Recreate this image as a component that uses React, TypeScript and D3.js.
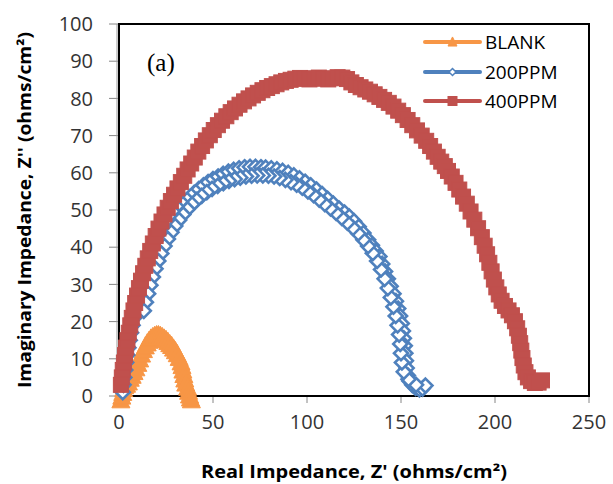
import React from "react";
import * as d3 from "d3";

const seriesNames = ["BLANK", "200PPM", "400PPM"];
const seriesColors = ["#F79646", "#4F81BD", "#C0504D"];

const blankX = [1, 1.5, 2, 2.5, 3, 4, 5, 6, 7, 8, 9, 10, 11, 12, 13, 14, 15, 16, 17, 18, 19, 20, 21, 22, 23, 24, 25, 26, 27, 28, 29, 30, 31, 32, 33, 33.5, 34, 34.5, 35, 35.5, 36.5, 37, 37.5, 38, 38.5];
const blankY = [-1, 0, 1, 2, 2.8, 3.2, 3.8, 4.8, 5.6, 6.6, 7.6, 8.8, 10, 11.3, 12.5, 13.5, 14.3, 15, 15.6, 16, 16.3, 16.5, 16.5, 16.3, 16, 15.6, 15.2, 14.7, 14.1, 13.6, 12.9, 12.2, 11.4, 10.4, 9.2, 8.2, 7, 5.8, 4.6, 3.5, 2.4, 1.3, 0.3, -0.5, -1];

// outer sweep then inner return sweep
const ppm200X = [2, 2.4, 2.8, 3.3, 3.8, 4.4, 5, 5.7, 6.4, 7.2, 8, 8.9, 9.8, 10.8, 11.8, 13, 14.2, 15.5, 16.9, 18.4, 20, 21.7, 23.4, 25.2, 27.1, 29.1, 31.1, 33.2, 35.4, 37.7, 40, 42.4, 44.9, 47.4, 50, 52.7, 55.4, 58.2, 61, 63.9, 66.8, 69.7, 72.6, 75.5, 78, 81, 84, 87, 90, 93, 96, 99, 102, 105, 108, 111, 114, 117, 120, 122.5, 125, 127.5, 130, 132.5, 134.5, 136.5, 138.5, 140, 141.5, 143, 144.5, 146, 147.3, 148.5, 149.5, 150.4, 151, 151.5, 152, 152.3, 152.6, 153, 153.6, 154.5, 156, 157.8, 159.8, 161.5, 163,
  158, 154, 151.5, 150.5, 150, 149.6, 149, 148.2, 147.2, 146, 144.6, 143, 141.3, 139.4, 137.3, 135, 132.5, 130, 127.3, 124.5, 121.5, 118.5, 115.5, 112.5, 109.5, 106.5, 103.5, 100.5, 97.5, 94.5, 91.5, 88.5, 85.5, 82.5, 79.5, 76.5, 73.5, 70.5, 67.5, 64.5, 61.5, 58.5, 55.5, 52.5, 49.5, 46.7, 44, 41.4, 38.9, 36.5, 34.2, 32, 29.9, 27.9, 26, 24.2, 22.5, 20.9, 19.4, 18, 16.7, 15.5, 14.3, 13.2];
const ppm200Y = [1, 3, 5, 7, 9, 11, 13, 15, 17, 19, 21, 23, 25, 27, 29, 31, 33, 35, 36.8, 38.6, 40.3, 42, 43.6, 45.2, 46.7, 48.2, 49.6, 51, 52.3, 53.5, 54.6, 55.6, 56.6, 57.5, 58.3, 59, 59.7, 60.3, 60.8, 61.2, 61.5, 61.6, 61.6, 61.5, 61.4, 61.2, 60.9, 60.5, 60, 59.3, 58.5, 57.6, 56.6, 55.5, 54.3, 53, 51.7, 50.4, 49.3, 48.2, 47, 45.5, 43.8, 42, 40.5, 39, 37.5, 35.5, 33.5, 31.5, 29.5, 27.5, 25.5, 23.5, 21.5, 19.5, 17.5, 15.5, 13.5, 11.5, 9.5, 7.5, 5.5, 4, 3, 2.2, 1.8, 2, 2.8,
  3, 4.5, 6.5, 9, 11.5, 14, 16.5, 19, 21.5, 24, 26.5, 29, 31.5, 34, 36.3, 38.4, 40.3, 42, 43.7, 45.2, 46.6, 47.9, 49.2, 50.4, 51.6, 52.8, 54, 55, 56, 56.8, 57.5, 58.1, 58.6, 59, 59.2, 59.3, 59.3, 59.2, 59, 58.7, 58.3, 57.8, 57.2, 56.5, 55.7, 54.8, 53.8, 52.7, 51.5, 50.2, 48.8, 47.3, 45.7, 44, 42.2, 40.3, 38.3, 36.3, 34.2, 32, 29.8, 27.5, 25.2, 22.9];

const ppm400X = [1, 1.5, 2, 2.6, 3.2, 3.8, 4.5, 5.2, 6, 6.8, 7.7, 8.6, 9.6, 10.6, 11.7, 12.8, 14, 15.3, 16.6, 18, 19.5, 21, 22.6, 24.2, 25.9, 27.6, 29.3, 31.1, 32.9, 34.7, 36.5, 38.4, 40.3, 42.2, 44.2, 46.2, 48.3, 50.4, 52.6, 54.8, 57.1, 59.4, 61.7, 64.1, 66.5, 68.9, 71.3, 73.8, 76.3, 78.8, 81.3, 83.8, 86.3, 88.8, 91.3, 93.8, 96.3, 98.8, 101.3, 103.8, 106.3, 108.8, 111.3, 113.8, 116.3, 118.8, 121.3, 123.6, 126, 128.5, 131, 133.5, 136, 138.5, 141, 143.5, 146, 148.5, 151, 153.5, 156, 158.5, 161, 163.4, 165.5, 167.5, 169.5, 171.4, 173.3, 175, 177, 179, 181, 183, 185, 187, 189, 191, 193, 194.5, 195.8, 197, 198.2, 199.4, 200.7, 202, 203.5, 205.3, 207.2, 209, 210.6, 211.8, 212.7, 213.4, 214, 214.6, 215.3, 216.2, 217.5, 219.2, 221.2, 223.2, 225];
const ppm400Y = [3, 5, 7, 9, 11, 13, 15, 17, 19, 21, 23, 25, 27, 29, 31, 33, 35, 37, 39, 41, 43, 45, 46.9, 48.8, 50.6, 52.4, 54.1, 55.8, 57.5, 59.2, 60.9, 62.5, 64.1, 65.7, 67.2, 68.7, 70.1, 71.5, 72.8, 74, 75.2, 76.3, 77.3, 78.3, 79.2, 80, 80.8, 81.5, 82.2, 82.8, 83.3, 83.8, 84.3, 84.7, 85, 85.3, 85.5, 85.3, 85.1, 85.4, 85.6, 85.3, 85.1, 85.4, 85.7, 85.6, 85.2, 84.3, 83.6, 83, 82.4, 81.8, 81.1, 80.4, 79.6, 78.8, 77.8, 76.7, 75.5, 74.2, 72.8, 71.4, 70, 68.6, 67.2, 65.7, 64.3, 63, 61.8, 60.5, 59, 57.3, 55.5, 53.6, 51.7, 49.6, 47.4, 45.1, 42.7, 40.4, 38.1, 35.8, 33.5, 31.3, 29.2, 27.3, 25.6, 24.2, 23, 21.7, 20.1, 18.2, 16.2, 14.2, 12.2, 10.2, 8.2, 6.4, 5, 4, 3.5, 3.6, 4.2];

const xTicks = [0, 50, 100, 150, 200, 250];
const yTicks = [0, 10, 20, 30, 40, 50, 60, 70, 80, 90, 100];

const W = 613;
const H = 484;
const L = 119, R = 589, T = 24, B = 396;

function marker(kind: number, cx: number, cy: number, s: number, color: string, key: string) {
  if (kind === 0) {
    const h = s * 0.9;
    const pts = `${cx},${cy - h / 2 - 1} ${cx - s / 2},${cy + h / 2} ${cx + s / 2},${cy + h / 2}`;
    return <polygon key={key} points={pts} fill={color} stroke={color} strokeWidth={1} />;
  }
  if (kind === 1) {
    const r = s / 2;
    const pts = `${cx},${cy - r} ${cx + r},${cy} ${cx},${cy + r} ${cx - r},${cy}`;
    return <polygon key={key} points={pts} fill="#ffffff" stroke={color} strokeWidth={s > 10 ? 2.6 : 1.5} />;
  }
  return <rect key={key} x={cx - s / 2} y={cy - s / 2} width={s} height={s} fill={color} stroke={color} strokeWidth={1} />;
}

export default function App() {
  const x = d3.scaleLinear().domain([0, 250]).range([L, R]);
  const y = d3.scaleLinear().domain([0, 100]).range([B, T]);
  const series = [
    { xs: blankX, ys: blankY },
    { xs: ppm200X, ys: ppm200Y },
    { xs: ppm400X, ys: ppm400Y },
  ];
  const sizes = [18, 14, 15];
  const line = d3.line<[number, number]>().x((d) => x(d[0])).y((d) => y(d[1]));
  const tickFont = "'Open Sans', sans-serif";
  const legY = [42, 72, 101];

  return (
    <svg width={W} height={H} style={{ position: "absolute", left: 0, top: 0, background: "#fff" }}>
      <rect x={0} y={0} width={W} height={H} fill="#fff" />
      {yTicks.map((t) => (
        <g key={"yt" + t}>
          <line x1={L - 10} x2={L} y1={y(t)} y2={y(t)} stroke="#868686" strokeWidth={1} />
          <text x={93} y={y(t)} dy="0.36em" textAnchor="end" fontFamily={tickFont} fontSize={20} fill="#333">
            {t}
          </text>
        </g>
      ))}
      {xTicks.map((t) => (
        <g key={"xt" + t}>
          <line x1={x(t)} x2={x(t)} y1={B} y2={B + 7} stroke="#868686" strokeWidth={1} />
          <text x={x(t)} y={429} textAnchor="middle" fontFamily={tickFont} fontSize={20} fill="#333">
            {t}
          </text>
        </g>
      ))}
      <line x1={L - 2} x2={L - 2} y1={T} y2={B} stroke="#9a9a9a" strokeWidth={1} />
      <rect x={L} y={T} width={R - L} height={B - T} fill="none" stroke="#000" strokeWidth={2} />

      {series.map((s, i) => {
        const pts: [number, number][] = s.xs.map((v, j) => [v, s.ys[j]]);
        return (
          <g key={"s" + i}>
            <path d={line(pts) || ""} fill="none" stroke={seriesColors[i]} strokeWidth={3} />
            {pts.map((p, j) => marker(i, x(p[0]), y(p[1]), sizes[i], seriesColors[i], `m${i}-${j}`))}
          </g>
        );
      })}

      {seriesNames.map((n, i) => (
        <g key={"lg" + i}>
          <line x1={425} x2={480} y1={legY[i]} y2={legY[i]} stroke={seriesColors[i]} strokeWidth={4} strokeLinecap="round" />
          {marker(i, 452.5, legY[i], i === 1 ? 7 : 9, seriesColors[i], "lm" + i)}
          <text x={485} y={legY[i]} dy="0.36em" fontFamily={tickFont} fontSize={19} fill="#000">
            {n}
          </text>
        </g>
      ))}

      <text x={147} y={71} fontFamily="'Liberation Serif', 'Times New Roman', serif" fontSize={25} fill="#000">
        (a)
      </text>

      <text
        x={(L + R) / 2}
        y={478}
        textAnchor="middle"
        fontFamily={tickFont}
        fontWeight="bold"
        fontSize={17}
        fill="#000"
        textLength={306}
        lengthAdjust="spacingAndGlyphs"
      >
        Real Impedance, Z' (ohms/cm²)
      </text>
      <text
        transform={`translate(31, ${(T + B) / 2}) rotate(-90)`}
        textAnchor="middle"
        fontFamily={tickFont}
        fontWeight="bold"
        fontSize={17}
        fill="#000"
        textLength={356}
        lengthAdjust="spacingAndGlyphs"
      >
        Imaginary Impedance, Z'' (ohms/cm²)
      </text>
    </svg>
  );
}
